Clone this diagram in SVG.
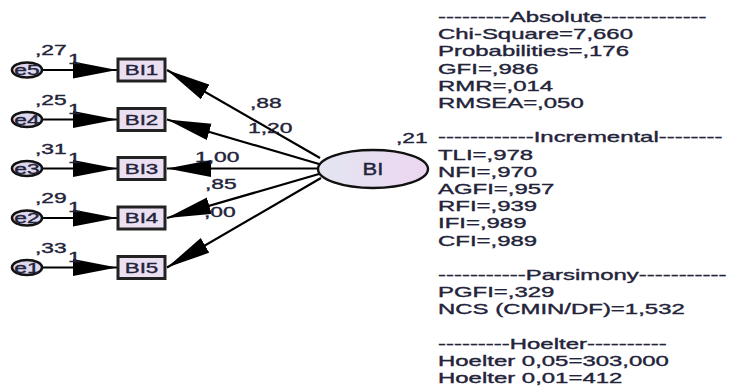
<svg xmlns="http://www.w3.org/2000/svg" width="734" height="389" viewBox="0 0 734 389">
  <defs>
    <style>
      text{font-family:"Liberation Sans",Arial,sans-serif;font-size:14px;fill:#23233a;stroke:#23233a;stroke-width:0.35}
      .mid{text-anchor:middle}
      .edge{stroke:#000;stroke-width:2.2;fill:none;marker-end:url(#head)}
      .err{fill:#ddd8ee;stroke:#111;stroke-width:2.6}
      .obs{fill:#ebdff2;stroke:#222;stroke-width:3}
      .lat{fill:url(#latFill);stroke:#111;stroke-width:2.4}
    </style>
    <marker id="head" markerUnits="userSpaceOnUse" markerWidth="44" markerHeight="18" refX="44" refY="9" orient="auto" viewBox="0 0 44 18">
      <path d="M0,0.5 L44,9 L0,17.5 Z" fill="#000"/>
    </marker>
    <linearGradient id="latFill" x1="0" x2="1" y1="0" y2="0">
      <stop offset="0" stop-color="#e3e6f1"/>
      <stop offset="1" stop-color="#ecd6f1"/>
    </linearGradient>
  </defs>

  <!-- paths: error terms to indicators, factor to indicators -->
  <g id="connectors">
    <line class="edge" x1="42" y1="70" x2="117" y2="70"/>
    <line class="edge" x1="42" y1="119.5" x2="117" y2="119.5"/>
    <line class="edge" x1="42" y1="168.5" x2="117" y2="168.5"/>
    <line class="edge" x1="42" y1="218" x2="117" y2="218"/>
    <line class="edge" x1="42" y1="267.5" x2="117" y2="267.5"/>

    <line class="edge" x1="320" y1="158" x2="167" y2="70"/>
    <line class="edge" x1="319" y1="164" x2="167" y2="119.5"/>
    <line class="edge" x1="318" y1="168.5" x2="167" y2="168.5"/>
    <line class="edge" x1="319" y1="174" x2="167" y2="218"/>
    <line class="edge" x1="321" y1="178" x2="167" y2="267.5"/>

    <!-- fixed error weights -->
    <text transform="translate(68,64) scale(1.63,1)">1</text>
    <text transform="translate(68,113.5) scale(1.63,1)">1</text>
    <text transform="translate(68,162.5) scale(1.63,1)">1</text>
    <text transform="translate(68,212) scale(1.63,1)">1</text>
    <text transform="translate(68,261.5) scale(1.63,1)">1</text>

    <!-- factor loadings -->
    <text transform="translate(250,108) scale(1.63,1)">,88</text>
    <text transform="translate(248,133) scale(1.63,1)">1,20</text>
    <text transform="translate(195,162) scale(1.63,1)">1,00</text>
    <text transform="translate(205,189) scale(1.63,1)">,85</text>
    <text transform="translate(204,217) scale(1.63,1)">,00</text>
  </g>

  <!-- error terms -->
  <g id="e5">
    <ellipse class="err" cx="27" cy="70" rx="15" ry="7.5"/>
    <text class="mid" transform="translate(27,75) scale(1.63,1)">e5</text>
    <text transform="translate(35,55) scale(1.63,1)">,27</text>
  </g>
  <g id="e4">
    <ellipse class="err" cx="27" cy="119.5" rx="15" ry="7.5"/>
    <text class="mid" transform="translate(27,124.5) scale(1.63,1)">e4</text>
    <text transform="translate(35,104.5) scale(1.63,1)">,25</text>
  </g>
  <g id="e3">
    <ellipse class="err" cx="27" cy="168.5" rx="15" ry="7.5"/>
    <text class="mid" transform="translate(27,173.5) scale(1.63,1)">e3</text>
    <text transform="translate(35,153.5) scale(1.63,1)">,31</text>
  </g>
  <g id="e2">
    <ellipse class="err" cx="27" cy="218" rx="15" ry="7.5"/>
    <text class="mid" transform="translate(27,223) scale(1.63,1)">e2</text>
    <text transform="translate(35,203) scale(1.63,1)">,29</text>
  </g>
  <g id="e1">
    <ellipse class="err" cx="27" cy="267.5" rx="15" ry="7.5"/>
    <text class="mid" transform="translate(27,272.5) scale(1.63,1)">e1</text>
    <text transform="translate(35,252.5) scale(1.63,1)">,33</text>
  </g>

  <!-- observed indicators -->
  <g id="BI1">
    <rect class="obs" x="118" y="59" width="47" height="22"/>
    <text class="mid" transform="translate(141.5,75) scale(1.6,1)">BI1</text>
  </g>
  <g id="BI2">
    <rect class="obs" x="118" y="108.5" width="47" height="22"/>
    <text class="mid" transform="translate(141.5,124.5) scale(1.6,1)">BI2</text>
  </g>
  <g id="BI3">
    <rect class="obs" x="118" y="157.5" width="47" height="22"/>
    <text class="mid" transform="translate(141.5,173.5) scale(1.6,1)">BI3</text>
  </g>
  <g id="BI4">
    <rect class="obs" x="118" y="207" width="47" height="22"/>
    <text class="mid" transform="translate(141.5,223) scale(1.6,1)">BI4</text>
  </g>
  <g id="BI5">
    <rect class="obs" x="118" y="256.5" width="47" height="22"/>
    <text class="mid" transform="translate(141.5,272.5) scale(1.6,1)">BI5</text>
  </g>

  <!-- latent factor -->
  <g id="BI">
    <ellipse class="lat" cx="373" cy="169" rx="55" ry="19"/>
    <text class="mid" style="font-size:16px" transform="translate(373,175) scale(1.38,1)">BI</text>
    <text transform="translate(396,143) scale(1.63,1)">,21</text>
  </g>

  <!-- model fit summary -->
  <g id="fit-stats" transform="translate(438,0) scale(1.71,1)">
    <text y="22">---------Absolute-------------</text>
    <text y="39.2">Chi-Square=7,660</text>
    <text y="56.4">Probabilities=,176</text>
    <text y="73.6">GFI=,986</text>
    <text y="90.8">RMR=,014</text>
    <text y="108">RMSEA=,050</text>
    <text y="142.4">------------Incremental--------</text>
    <text y="159.6">TLI=,978</text>
    <text y="176.8">NFI=,970</text>
    <text y="194">AGFI=,957</text>
    <text y="211.2">RFI=,939</text>
    <text y="228.4">IFI=,989</text>
    <text y="245.6">CFI=,989</text>
    <text y="280">-----------Parsimony-----------</text>
    <text y="297.2">PGFI=,329</text>
    <text y="314.4">NCS (CMIN/DF)=1,532</text>
    <text y="348.8">---------Hoelter----------</text>
    <text y="366">Hoelter 0,05=303,000</text>
    <text y="383.2">Hoelter 0,01=412</text>
  </g>
</svg>
